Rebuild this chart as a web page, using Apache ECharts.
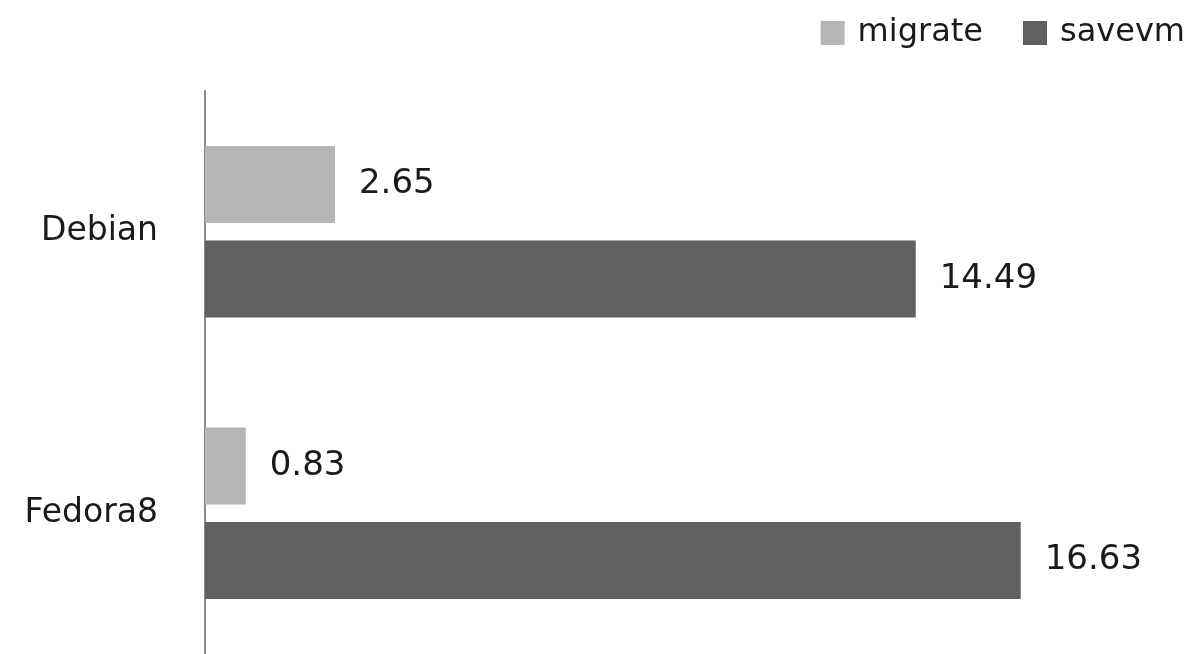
<!DOCTYPE html>
<html>
<head>
<meta charset="utf-8">
<script src="https://cdn.jsdelivr.net/npm/echarts@6/dist/echarts.min.js"></script>
<style>
html,body{margin:0;padding:0;background:#fff;}
#chart{width:1195px;height:654px;}
</style>
</head>
<body>
<div id="chart"></div>
<script>
const categories = ['Debian', 'Fedora8'];
const migrate = [2.65, 0.83];
const savevm = [14.49, 16.63];
const seriesNames = ['migrate', 'savevm'];

const chart = echarts.init(document.getElementById('chart'));
const labelStyle = {
  show: true,
  position: 'right',
  distance: 24,
  color: '#1a1a1a',
  fontFamily: 'DejaVu Sans',
  fontSize: 34,
  formatter: p => p.value.toFixed(2)
};
chart.setOption({
  animation: false,
  legend: {
    right: 5,
    top: 12,
    itemWidth: 24,
    itemHeight: 24,
    itemGap: 40,
    icon: 'rect',
    textStyle: { fontFamily: 'DejaVu Sans', fontSize: 32, color: '#1a1a1a', padding: [0, 0, 0, 8] },
    data: seriesNames
  },
  grid: { left: 205, top: 91, bottom: 0, right: 9 },
  xAxis: {
    type: 'value', min: 0, max: 20,
    show: false
  },
  yAxis: {
    type: 'category',
    data: categories,
    inverse: true,
    axisLine: { show: true, lineStyle: { color: '#8a8a8a', width: 2 } },
    axisTick: { show: false },
    axisLabel: { fontFamily: 'DejaVu Sans', fontSize: 33, color: '#1a1a1a', margin: 47 }
  },
  series: [
    { name: 'migrate', type: 'bar', data: migrate, barWidth: 77, barGap: '23%',
      itemStyle: { color: '#b5b5b5' }, label: labelStyle },
    { name: 'savevm', type: 'bar', data: savevm, barWidth: 77, barGap: '23%',
      itemStyle: { color: '#606060' }, label: labelStyle }
  ]
});
</script>
</body>
</html>
